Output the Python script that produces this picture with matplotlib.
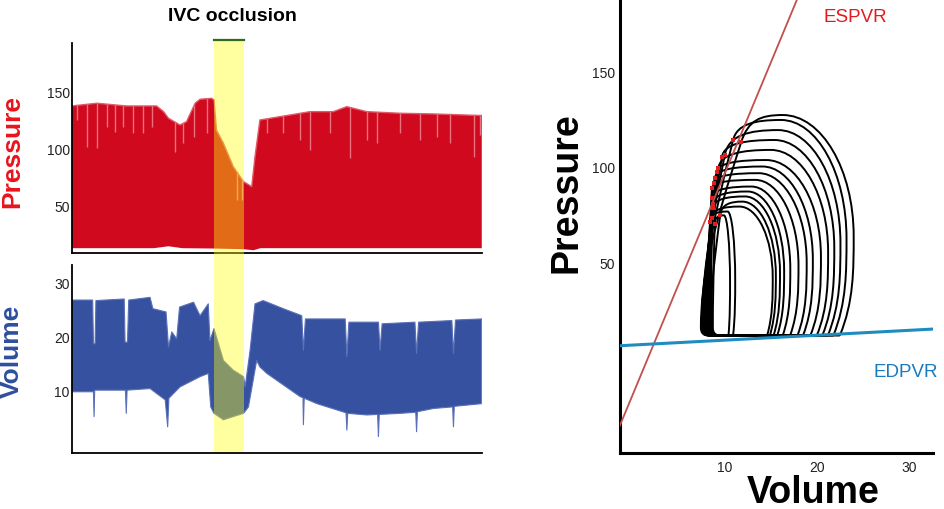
import numpy as np
import matplotlib
matplotlib.use('Agg')
import matplotlib.pyplot as plt
from matplotlib.path import Path
from matplotlib.patches import PathPatch, Rectangle
from matplotlib.lines import Line2D
from matplotlib.transforms import blended_transform_factory

plt.rcParams['font.family'] = ['Liberation Sans', 'DejaVu Sans']

# ---------------------------------------------------------------- data
# time axis of the recordings in % of the record
occlusion = (34.7, 41.9)

# pressure trace envelope (mmHg)
p_up_t = [0, 6.1, 13.4, 20.7, 22.4, 23.6, 26.4, 28.0, 30.1, 31.3, 34.1, 34.7,
          35.3, 37.0, 39.4, 41.9, 43.9, 44.7, 45.9, 48.4, 58.1, 63.8, 67.1,
          72.0, 80.1, 88.2, 100]
p_up = [138.6, 141.0, 138.6, 138.6, 133.6, 127.8, 121.9, 124.8, 141.0, 144.5,
        145.3, 143.9, 117.5, 105.9, 85.4, 72.2, 67.8, 94.1, 126.3, 127.8,
        133.6, 133.6, 138.0, 133.6, 132.2, 131.6, 130.2]
p_lo_t = [0, 20, 23.6, 27, 34.6, 42, 44.3, 46, 100]
p_lo = [13.8, 13.8, 15.5, 13.8, 13.5, 12.9, 12.0, 13.8, 13.8]
# lighter beat dips at the top of the pressure trace
p_dip_t = [1.4, 3.7, 6.1, 8.5, 10.6, 12.6, 15.0, 17.5, 19.5, 25.2, 27.2, 29.7,
           32.9, 40.2, 41.5, 47.6, 51.6, 55.7, 58.1, 63.0, 67.9, 72.0, 74.4,
           80.1, 85.0, 89.0, 92.3, 98.0, 99.6]
p_dip = [126.3, 102.9, 101.5, 120.5, 116.1, 120.5, 114.6, 114.6, 120.5, 98.5,
         105.9, 111.7, 114.6, 56.1, 56.1, 114.6, 114.6, 108.8, 100.0, 114.6,
         92.7, 108.8, 105.9, 114.6, 108.8, 111.7, 105.9, 94.2, 113.1]

# volume trace envelope (uL)
v_up_t = [0, 5.1, 5.3, 5.7, 5.9, 12.8, 13.0, 13.6, 13.9, 19.1, 19.8, 23.0,
          23.6, 24.4, 25.6, 26.3, 29.7, 31.3, 33.3, 33.7, 34.7, 37.0, 39.4,
          41.9, 42.3, 43.5, 44.7, 46.7, 51.6, 56.1, 56.5, 57.0, 66.7, 67.1,
          67.6, 74.8, 75.2, 75.7, 83.7, 84.1, 84.6, 92.7, 93.1, 93.6, 100]
v_up = [27.0, 27.0, 18.9, 18.9, 26.9, 27.2, 19.2, 19.2, 27.0, 27.5, 25.4, 24.8,
        18.3, 21.1, 19.8, 25.7, 26.6, 24.1, 26.3, 19.5, 21.7, 15.8, 14.0,
        12.8, 10.9, 17.7, 26.3, 26.9, 25.4, 24.1, 17.7, 23.5, 23.5, 16.5,
        22.9, 22.9, 17.7, 22.6, 22.9, 17.1, 22.9, 23.2, 17.1, 23.3, 23.5]
v_lo_t = [0, 5.1, 5.3, 5.45, 5.6, 13.1, 13.3, 13.5, 19.1, 22.8, 23.4, 23.7,
          26.4, 31.3, 33.3, 33.9, 34.7, 37.0, 39.4, 41.9, 43.1, 45.1, 45.9,
          47.6, 55.7, 56.4, 56.5, 56.7, 59.8, 66.9, 67.1, 67.3, 72.0, 74.6,
          74.8, 75.0, 80.1, 83.9, 84.1, 84.3, 88.2, 92.9, 93.1, 93.3, 100]
v_lo = [10.0, 10.0, 10.0, 5.4, 10.3, 10.3, 6.0, 10.3, 10.6, 8.5, 3.5, 8.8,
        10.9, 12.8, 13.4, 7.2, 6.0, 4.8, 5.4, 6.0, 7.2, 15.8, 14.6, 13.4, 9.1,
        8.9, 3.9, 8.8, 7.8, 6.1, 2.9, 6.0, 5.7, 5.8, 1.7, 5.8, 6.0, 6.2, 2.6,
        6.3, 6.9, 7.2, 3.5, 7.3, 7.8]

# PV loops during occlusion (volume uL, pressure mmHg)
loop_edv = [10.4, 10.9, 14.6, 14.9, 15.3, 15.7, 16.3, 17.1, 17.9, 18.5, 19.3,
            20.0, 20.6, 21.2, 21.8, 22.5]
loop_peak = [75.0, 77.0, 79.6, 82.2, 84.9, 87.5, 90.1, 93.6, 97.1, 100.6,
             104.0, 109.3, 114.5, 119.7, 125.0, 127.6]
loop_vtop = [9.9, 10.3, 11.6, 11.9, 12.2, 12.5, 12.9, 13.3, 13.7, 14.1, 14.5,
             15.0, 15.4, 15.8, 16.1, 16.3]
loop_esv = [8.9, 8.4, 8.6, 9.5, 8.75, 8.7, 8.6, 8.6, 8.8, 8.9, 9.1, 9.3, 9.7,
            10.0, 10.9, 11.8]
loop_esp = [70.5, 71.7, 73.5, 75.2, 78.7, 81.0, 84.0, 89.2, 92.0, 94.4, 97.5,
            99.7, 105.8, 106.7, 114.5, 113.6]
loop_vleft = [8.7, 8.6, 8.5, 8.4, 8.3, 8.2, 8.1, 8.0, 7.9, 7.8, 7.8, 7.7, 7.6,
              7.5, 7.5, 7.4]
loop_base = 12.0

# end-systolic / end-diastolic relations
ees, v0 = 11.6, 1.63
edp0, edp_slope = 7.0, 0.257

# ---------------------------------------------------------------- colours
red = '#d0091e'
blue = '#3651a0'

fig = plt.figure(figsize=(9.45, 5.09), dpi=100)
ax_p = fig.add_axes([0.0759, 0.503, 0.4339, 0.4126])
ax_v = fig.add_axes([0.0759, 0.110, 0.4339, 0.3694])
ax_pv = fig.add_axes([0.656, 0.110, 0.331, 0.890])

for ax in (ax_p, ax_v):
    ax.spines[['top', 'right']].set_visible(False)
    ax.spines[['left', 'bottom']].set_linewidth(1.3)
    ax.set_xlim(0, 100)
    ax.set_xticks([])
    ax.tick_params(axis='y', length=0, pad=1.5, labelsize=10, labelcolor='#222222')

# pressure trace
poly = ax_p.fill(np.r_[p_up_t, p_lo_t[::-1]], np.r_[p_up, p_lo[::-1]],
                 color=red, lw=0)[0]
dips = ax_p.vlines(p_dip_t, p_dip, 200, colors='#e8717d', lw=1.0)
dips.set_clip_path(poly)
ax_p.plot(p_up_t, p_up, color='#e05a68', lw=1.0)
ax_p.set_ylim(9.6, 193.9)
ax_p.set_yticks([50, 100, 150])

# volume trace
ax_v.fill(np.r_[v_up_t, v_lo_t[::-1]], np.r_[v_up, v_lo[::-1]], color=blue, lw=0)
ax_v.plot(v_up_t, v_up, color='#5a70b8', lw=0.8)
ax_v.plot(v_lo_t, v_lo, color='#5a70b8', lw=0.8)
ax_v.set_ylim(-1.35, 33.5)
ax_v.set_yticks([10, 20, 30])

# occlusion band over both traces
trans = blended_transform_factory(ax_p.transData, fig.transFigure)
y_top, y_bot = 1 - 40 / 509, 1 - 452 / 509
fig.add_artist(Rectangle((occlusion[0], y_bot), occlusion[1] - occlusion[0],
                         y_top - y_bot, transform=trans, facecolor='#ffff10',
                         alpha=0.4, lw=0, zorder=5))
fig.add_artist(Line2D(list(occlusion), [y_top, y_top], transform=trans,
                      color='#2e6b1f', lw=1.6, zorder=6))

fig.text(0.2455, 0.968, 'IVC occlusion', ha='center', va='center',
         fontsize=14, fontweight='bold')
fig.text(0.0127, 0.7033, 'Pressure', rotation=90, ha='center', va='center',
         fontsize=19, fontweight='bold', color='#e8141c')
fig.text(0.0127, 0.3104, 'Volume', rotation=90, ha='center', va='center',
         fontsize=19, fontweight='bold', color='#2f4f9f')

# ---------------------------------------------------------------- PV loops
for e, pk, vt, ev, ep, vl in zip(loop_edv, loop_peak, loop_vtop, loop_esv,
                                 loop_esp, loop_vleft):
    b = loop_base
    h = pk - b
    bulge = 0.1 * (e - vl)
    er = e + bulge
    # tangent leaving the end-systolic point towards the left leg
    tx, ty = 0.7 * (ev - vl), 0.45 * (ep - b)
    a = min(0.3, 0.8 * (pk - ep) / ty)
    verts = [(e, b),
             # right leg, bowing out a little
             (er, b + 0.15 * h), (er, b + 0.3 * h), (er, b + 0.45 * h),
             # rounded top
             (er, b + 0.45 * h + 0.55 * 0.55 * h), (vt + 0.55 * (er - vt), pk), (vt, pk),
             # over to end-systole
             (vt - 0.55 * (vt - ev), pk), (ev + a * tx, ep + a * ty), (ev, ep),
             # isovolumic relaxation down the left leg
             (ev - tx, ep - ty), (vl, b + 0.3 * (ep - b)), (vl, b + 4),
             (vl, b), (vl + 0.8, b),
             (e, b)]
    codes = ([Path.MOVETO] + [Path.CURVE4] * 12 + [Path.CURVE3] * 2 + [Path.LINETO])
    ax_pv.add_patch(PathPatch(Path(verts, codes), fill=False, edgecolor='black',
                              lw=1.4, zorder=2))

ax_pv.plot(loop_esv, loop_esp, 's', color='#e02020', ms=2.6, mew=0, zorder=4)

vv = np.array([-1.4, 32.6])
ax_pv.plot(vv, ees * (vv - v0), color='#c0504d', lw=1.3, zorder=3)
ax_pv.plot(vv, edp0 + edp_slope * vv, color='#1f8cc0', lw=2.2, zorder=3)

ax_pv.set_xlim(-1.4, 32.6)
ax_pv.set_ylim(-49.6, 187.9)
ax_pv.set_xticks([10, 20, 30])
ax_pv.set_yticks([50, 100, 150])
ax_pv.spines[['top', 'right']].set_visible(False)
ax_pv.spines[['left', 'bottom']].set_linewidth(2.2)
ax_pv.tick_params(axis='x', length=0, pad=6, labelsize=10, labelcolor='#222222')
ax_pv.tick_params(axis='y', length=0, pad=3.5, labelsize=10, labelcolor='#222222')

fig.text(0.905, 0.965, 'ESPVR', ha='center', va='center', fontsize=13.5,
         color='#e41a1c')
fig.text(0.958, 0.269, 'EDPVR', ha='center', va='center', fontsize=13.5,
         color='#1a7ac0')
fig.text(0.600, 0.621, 'Pressure', rotation=90, ha='center', va='center',
         fontsize=27, fontweight='bold')
fig.text(0.861, 0.032, 'Volume', ha='center', va='center', fontsize=27,
         fontweight='bold')

fig.savefig('out.png', dpi=100)
